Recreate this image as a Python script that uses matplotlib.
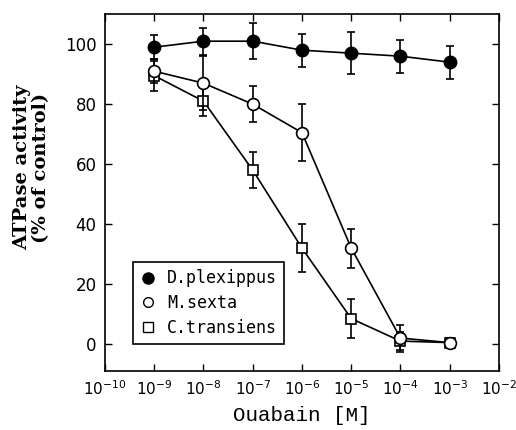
import matplotlib
matplotlib.use("Agg")
import matplotlib.pyplot as plt
import numpy as np
from matplotlib.lines import Line2D

conc = [1e-9, 1e-8, 1e-7, 1e-6, 1e-5, 1e-4, 1e-3]
d_plex = [99, 101, 101, 98, 97, 96, 94]
d_plex_err = [4, 4.5, 6, 5.5, 7, 5.5, 5.5]
m_sexta = [91, 87, 80, 70.5, 32, 2, 0.5]
m_sexta_err = [4, 9, 6, 9.5, 6.5, 4.5, 1.5]
c_trans = [89.5, 81, 58, 32, 8.5, 1, 0.5]
c_trans_err = [5, 5, 6, 8, 6.5, 3, 1.5]
labels = ["D.plexippus", "M.sexta", "C.transiens"]
xticks = [1e-10, 1e-9, 1e-8, 1e-7, 1e-6, 1e-5, 1e-4, 1e-3, 1e-2]
yticks = [0, 20, 40, 60, 80, 100]

fig = plt.figure(figsize=(5.16, 4.30), dpi=100)
ax = fig.add_axes([0.2035, 0.137, 0.7635, 0.830])

kw = dict(color="black", ecolor="black", elinewidth=1.2, capsize=3, capthick=1.2, lw=1.2)
ax.errorbar(conc, c_trans, yerr=c_trans_err, marker="s", ms=7, mfc="white", mec="black", mew=1.2, zorder=3, **kw)
ax.errorbar(conc, m_sexta, yerr=m_sexta_err, marker="o", ms=8.5, mfc="white", mec="black", mew=1.2, zorder=4, **kw)
ax.errorbar(conc, d_plex, yerr=d_plex_err, marker="o", ms=9, mfc="black", mec="black", zorder=5, **kw)

ax.set_xscale("log")
ax.set_xlim(1e-10, 1e-2)
ax.set_ylim(-9, 110)
ax.set_xticks(xticks)
ax.set_xticklabels([r"$10^{%d}$" % int(round(np.log10(v))) for v in xticks], fontsize=11)
ax.minorticks_off()
ax.set_yticks(yticks)
ax.set_yticklabels([str(v) for v in yticks], fontsize=12)
ax.tick_params(direction="in", top=True, right=True, length=5, width=1, pad=6)
for s in ax.spines.values():
    s.set_linewidth(1.2)

ax.set_ylabel("ATPase activity\n(% of control)", fontsize=14, fontweight="bold",
              family="DejaVu Serif", linespacing=1.05)
ax.yaxis.set_label_coords(-0.14, 0.57)
ax.set_xlabel("Ouabain [M]", fontsize=15, family="Liberation Mono", labelpad=6)

handles = [Line2D([], [], marker="o", ls="none", mfc="black", mec="black", ms=8),
           Line2D([], [], marker="o", ls="none", mfc="white", mec="black", ms=7),
           Line2D([], [], marker="s", ls="none", mfc="white", mec="black", ms=7)]
leg = ax.legend(handles, labels, loc="lower left", bbox_to_anchor=(0.07, 0.075),
                prop={"family": "DejaVu Sans Mono", "size": 12}, fancybox=False,
                edgecolor="black", framealpha=1, handlelength=1.0, handletextpad=0.6,
                borderpad=0.45, labelspacing=0.4, borderaxespad=0)
leg.get_frame().set_linewidth(1.2)

fig.savefig("out.png", dpi=100)
